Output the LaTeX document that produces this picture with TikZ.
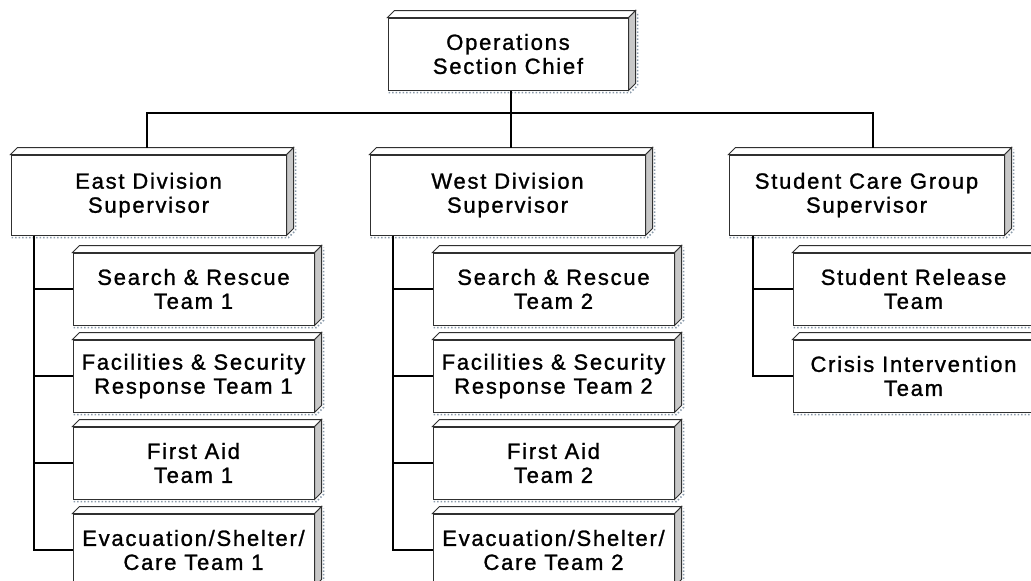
\documentclass[tikz,border=0pt]{standalone}
\usepackage{fontspec}
\newfontfamily\boxfont{Liberation Sans}[LetterSpace=8.0, FakeBold=1.2]
\definecolor{edgegray}{HTML}{303030}
\definecolor{sidegray}{HTML}{C8C8C8}
\definecolor{dropgray}{HTML}{8A9AAA}
\tikzset{
  unit/.style={rectangle, draw=edgegray, fill=white, line width=1pt, align=center, inner sep=0pt,
    font={\boxfont\fontsize{22}{24}\selectfont}},
  chiefbox/.style={unit, minimum width=240pt, minimum height=72pt},
  superbox/.style={unit, minimum width=275pt, minimum height=80pt},
  teambox/.style={unit, minimum width=241pt, minimum height=72pt},
  link/.style={draw=black, line width=2pt},
}
\begin{document}
\begin{tikzpicture}[x=1pt,y=1pt]
  \useasboundingbox (0,0) rectangle (1031,-581);

  % section chief and supervisors
  \node [chiefbox] (OSC) at (508,-54) {Operations\\Section Chief};
  \node [superbox] (EDS) at (148.5,-195) {East Division\\Supervisor};
  \node [superbox] (WDS) at (507.5,-195) {West Division\\Supervisor};
  \node [superbox] (SCG) at (866.5,-195) {Student Care Group\\Supervisor};

  % east teams
  \node [teambox] (SR1) at (193.5,-289) {Search \& Rescue\\Team 1};
  \node [teambox] (FS1) at (193.5,-376) {Facilities \& Security\\Response Team 1};
  \node [teambox] (FA1) at (193.5,-463) {First Aid\\Team 1};
  \node [teambox] (EV1) at (193.5,-550) {Evacuation/Shelter/\\Care Team 1};

  % west teams
  \node [teambox] (SR2) at (553.5,-289) {Search \& Rescue\\Team 2};
  \node [teambox] (FS2) at (553.5,-376) {Facilities \& Security\\Response Team 2};
  \node [teambox] (FA2) at (553.5,-463) {First Aid\\Team 2};
  \node [teambox] (EV2) at (553.5,-550) {Evacuation/Shelter/\\Care Team 2};

  % student care teams
  \node [teambox] (SRT) at (913.5,-289) {Student Release\\Team};
  \node [teambox] (CIT) at (913.5,-376) {Crisis Intervention\\Team};

  % top and side faces, shadow
  \foreach \n in {OSC,EDS,WDS,SCG,SR1,FS1,FA1,EV1,SR2,FS2,FA2,EV2,SRT,CIT} {
    \draw[dropgray, dotted, line width=1.5pt] ([shift={(1,-2)}]\n.south west) -- ([shift={(2,-2)}]\n.south east)
      -- ([shift={(9,5)}]\n.south east) -- ([shift={(9,5)}]\n.north east);
    \filldraw[draw=edgegray, fill=sidegray, line width=1pt] (\n.north east) -- ++(7,7)
      -- ([shift={(7,7)}]\n.south east) -- (\n.south east) -- cycle;
    \filldraw[draw=edgegray, fill=white, line width=1pt] (\n.north west) -- ++(7,7)
      -- ([shift={(7,7)}]\n.north east) -- (\n.north east) -- cycle;
  }

  % connectors
  \coordinate (bus) at ([shift={(3,-22)}]OSC.south);
  \draw[link] ([xshift=3]OSC.south) -- ([shift={(3.5,7)}]WDS.north);
  \draw[link] ([shift={(-1.5,7)}]EDS.north) |- (bus) -| ([shift={(6.5,7)}]SCG.north);
  \foreach \t in {SR1,FS1,FA1,EV1}
    \draw[link] ([xshift=23]EDS.south west) |- (\t.west);
  \foreach \t in {SR2,FS2,FA2,EV2}
    \draw[link] ([xshift=23]WDS.south west) |- (\t.west);
  \foreach \t in {SRT,CIT}
    \draw[link] ([xshift=24]SCG.south west) |- (\t.west);
\end{tikzpicture}
\end{document}
